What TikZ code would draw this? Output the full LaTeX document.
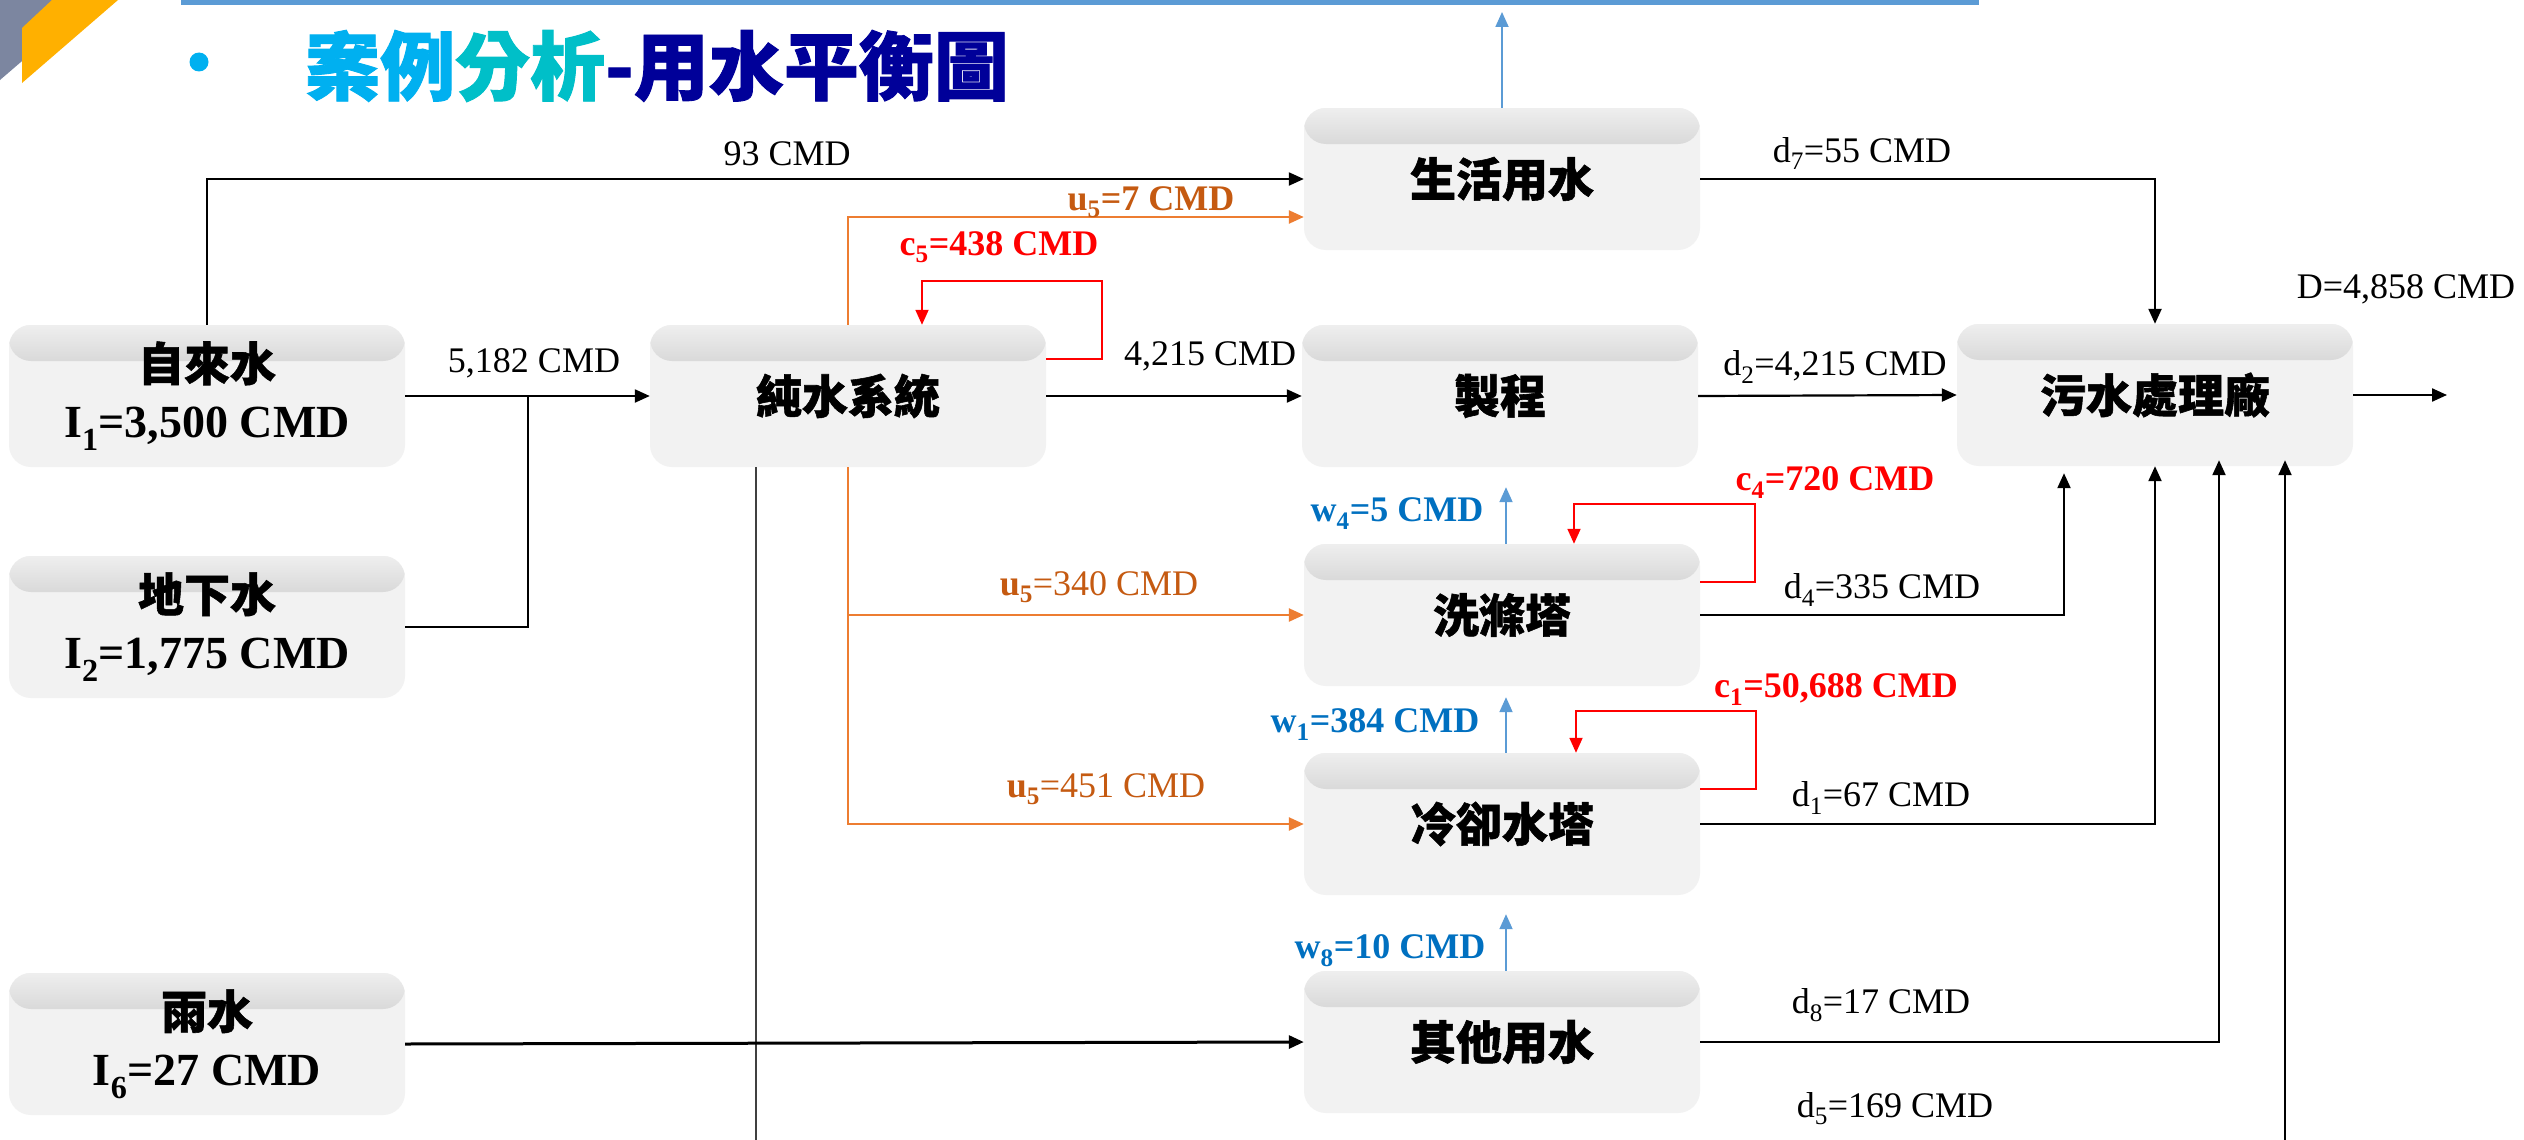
\documentclass[tikz,border=0pt]{standalone}
\usepackage{fontspec}
\setmainfont{Liberation Serif}
\newfontfamily\cjk{Noto Sans CJK TC}[BoldFeatures={FakeBold=1.2}]
\usetikzlibrary{arrows.meta}
\definecolor{boxfill}{HTML}{F2F2F2}
\definecolor{shadegray}{HTML}{9A9A9A}
\definecolor{orgline}{HTML}{ED7D31}
\definecolor{orgtext}{HTML}{C55A11}
\definecolor{blueline}{HTML}{5B9BD5}
\definecolor{bluetext}{HTML}{0070C0}
\definecolor{navyt}{HTML}{000099}
\definecolor{cyanA}{HTML}{00B0F0}
\definecolor{cyanB}{HTML}{00BFC8}
\definecolor{slate}{HTML}{7C86A0}
\definecolor{amber}{HTML}{FFB000}
\definecolor{thingray}{HTML}{404040}
\begin{document}
\begin{tikzpicture}[x=1pt,y=-1pt,
  >={Triangle[length=15pt,width=13pt]},
  box/.style={rounded corners=22pt, minimum width=396pt, minimum height=142pt,
    inner sep=0pt, fill=boxfill, align=center,
    font=\fontsize{46}{57}\selectfont,
    path picture={\shade[top color=boxfill,bottom color=shadegray]
      ([yshift=6pt]path picture bounding box.north west) rectangle
      ([yshift=-36pt]path picture bounding box.north east);}},
  lab/.style={font=\fontsize{36}{40}\selectfont, anchor=base, inner sep=0pt},
  blk/.style={line width=2.2pt, black},
  blkthick/.style={line width=3pt, black},
  thinl/.style={line width=1.2pt, thingray},
  redl/.style={line width=1.8pt, red},
  orgl/.style={line width=2.4pt, orgline},
  blul/.style={line width=1.8pt, blueline}]
\useasboundingbox (0,0) rectangle (2524,1140);
\fill[white] (0,0) rectangle (2524,1140);

% corner decoration and title
\fill[slate] (0,0) -- (93,0) -- (0,80) -- cycle;
\fill[amber] (52,0) -- (118,0) -- (22,83) -- (22,28) -- cycle;
\fill[blueline] (181,0) rectangle (1979,5);
\node[circle, fill=cyanA, minimum size=19pt, inner sep=0pt] (bul) at (199,62) {};
\node[font=\cjk\bfseries\fontsize{75}{80}\selectfont, inner sep=0pt] (title) at (657,66)
  {\textcolor{cyanA}{案例}\textcolor{cyanB}{分析}\textcolor{navyt}{-用水平衡圖}};

% boxes
\node[box] (src1) at (207,396) {{\cjk\bfseries 自來水}\\{\bfseries I\textsubscript{1}=3,500 CMD}};
\node[box] (src2) at (207,627) {{\cjk\bfseries 地下水}\\{\bfseries I\textsubscript{2}=1,775 CMD}};
\node[box] (src3) at (207,1044) {{\cjk\bfseries 雨水}\\{\bfseries I\textsubscript{6}=27 CMD}};
\node[box] (pure) at (848,396) {\cjk\bfseries 純水系統};
\node[box] (life) at (1502,179) {\cjk\bfseries 生活用水};
\node[box] (proc) at (1500,396) {\cjk\bfseries 製程};
\node[box] (wwtp) at (2155,395) {\cjk\bfseries 污水處理廠};
\node[box] (wash) at (1502,615) {\cjk\bfseries 洗滌塔};
\node[box] (cool) at (1502,824) {\cjk\bfseries 冷卻水塔};
\node[box] (other) at (1502,1042) {\cjk\bfseries 其他用水};

% helper coordinates
\coordinate (j1) at (528,396);
\coordinate (bl) at (756,1140);
\coordinate (br) at (2285,1140);
\coordinate (lt) at (1502,12);
\coordinate (out) at (2447,395);

% connectors
\draw[blk,->] (src1.north) |- (life.west);
\draw[blk] (src2.east) -| (j1);
\draw[blk,->] (src1.east) -- (pure.west);
\draw[blk,->] (pure.east) -- (proc.west);
\draw[redl,->] ([yshift=37pt]pure.east) -- ++(56,0) -- ++(0,-78) -| ([xshift=74pt]pure.north);
\draw[orgl,->] (pure.north) |- ([yshift=-38pt]life.west);
\draw[orgl,->] (pure.south) |- (wash.west);
\draw[orgl,->] (pure.south) |- (cool.west);
\draw[thinl] ([xshift=-92pt]pure.south) -- (bl);
\draw[blul,->] (life.north) -- (lt);
\draw[blk,->] (life.east) -| (wwtp.north);
\draw[blk,->] (proc.east) -- (wwtp.west);
\draw[blk,->] (wwtp.east) -- (out);
\draw[blk,->] (wash.east) -| ([xshift=-91pt,yshift=-7pt]wwtp.south);
\draw[blk,->] (cool.east) -| (wwtp.south);
\draw[blk,->] (other.east) -| ([xshift=64pt,yshift=6pt]wwtp.south);
\draw[blk,->] (br) -- ([xshift=130pt,yshift=6pt]wwtp.south);
\draw[redl,->] ([yshift=33pt]wash.east) -- ++(55,0) -- ++(0,-78) -| ([xshift=72pt]wash.north);
\draw[redl,->] ([yshift=35pt]cool.east) -- ++(56,0) -- ++(0,-78) -| ([xshift=74pt]cool.north);
\draw[blul,->] ([xshift=4pt]wash.north) -- ([xshift=6pt,yshift=-20pt]proc.south);
\draw[blul,->] ([xshift=4pt]cool.north) -- ([xshift=4pt,yshift=-11pt]wash.south);
\draw[blul,->] ([xshift=4pt]other.north) -- ([xshift=4pt,yshift=-19pt]cool.south);
\draw[blkthick,->] (src3.east) -- (other.west);

% labels
\node[lab] (l93) at (787,165) {93 CMD};
\node[lab] (l5182) at (534,372) {5,182 CMD};
\node[lab, text=orgtext, font=\bfseries\fontsize{36}{40}\selectfont] (lu7) at (1151,210) {u\textsubscript{5}=7 CMD};
\node[lab, text=red, font=\bfseries\fontsize{36}{40}\selectfont] (lc5) at (999,255) {c\textsubscript{5}=438 CMD};
\node[lab] (l4215) at (1210,365) {4,215 CMD};
\node[lab] (ld7) at (1862,162) {d\textsubscript{7}=55 CMD};
\node[lab] (lD) at (2406,298) {D=4,858 CMD};
\node[lab] (ld2) at (1835,375) {d\textsubscript{2}=4,215 CMD};
\node[lab, text=red, font=\bfseries\fontsize{36}{40}\selectfont] (lc4) at (1835,490) {c\textsubscript{4}=720 CMD};
\node[lab, text=bluetext, font=\bfseries\fontsize{36}{40}\selectfont] (lw4) at (1397,521) {w\textsubscript{4}=5 CMD};
\node[lab] (ld4) at (1882,598) {d\textsubscript{4}=335 CMD};
\node[lab, text=red, font=\bfseries\fontsize{36}{40}\selectfont] (lc1) at (1836,697) {c\textsubscript{1}=50,688 CMD};
\node[lab, text=bluetext, font=\bfseries\fontsize{36}{40}\selectfont] (lw1) at (1375,732) {w\textsubscript{1}=384 CMD};
\node[lab] (ld1) at (1881,806) {d\textsubscript{1}=67 CMD};
\node[lab, text=orgtext] (lu340) at (1099,595) {\textbf{u\textsubscript{5}}=340 CMD};
\node[lab, text=orgtext] (lu451) at (1106,797) {\textbf{u\textsubscript{5}}=451 CMD};
\node[lab, text=bluetext, font=\bfseries\fontsize{36}{40}\selectfont] (lw8) at (1390,958) {w\textsubscript{8}=10 CMD};
\node[lab] (ld8) at (1881,1013) {d\textsubscript{8}=17 CMD};
\node[lab] (ld5) at (1895,1117) {d\textsubscript{5}=169 CMD};
\end{tikzpicture}
\end{document}
